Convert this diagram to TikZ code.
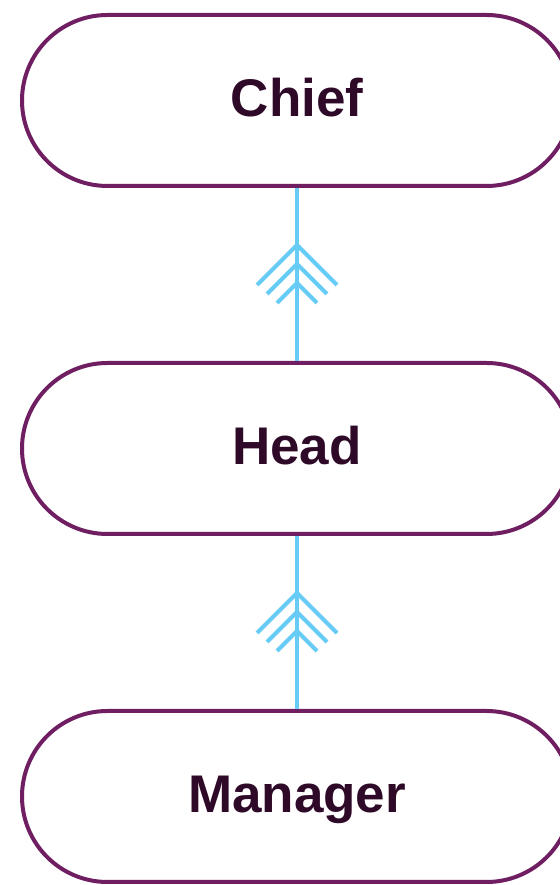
\documentclass[tikz,border=0pt]{standalone}
\usepackage{fontspec}
\setmainfont{Liberation Sans}
\usepackage{tikz}
\usetikzlibrary{positioning,calc}

\definecolor{rank}{RGB}{112,30,98}
\definecolor{ranktext}{RGB}{46,10,40}
\definecolor{link}{RGB}{102,204,245}

\tikzset{
    rankbox/.style={rectangle, rounded corners=85.5pt, draw=rank, line width=4pt,
        fill=white, minimum width=550pt, minimum height=171pt, text=ranktext,
        text height=32pt, text depth=0pt,
        font=\fontsize{53}{60}\selectfont\bfseries},
    linkline/.style={draw=link, line width=4pt},
}

\begin{document}
\begin{tikzpicture}[x=1pt,y=1pt]
        \useasboundingbox (0,0) rectangle (559,885);
        \node[rankbox] (chief) at (297,784.5) {Chief};
        \node[rankbox, below=173pt of chief] (head) {Head};
        \node[rankbox, below=173pt of head] (manager) {Manager};
        \draw[linkline] (head.north) -- (chief.south);
        \draw[linkline] (manager.north) -- (head.south);
        \coordinate (m1) at ($(head.north)!0.5!(chief.south)$);
        \coordinate (m2) at ($(manager.north)!0.5!(head.south)$);
        % three chevrons on each link
        \foreach \m in {m1,m2}
            \foreach \w/\d in {40/29.5, 30/10.5, 20/-8.5}
                \draw[linkline] ($(\m)+(-\w,\d-\w)$) -- ($(\m)+(0,\d)$) -- ($(\m)+(\w,\d-\w)$);
    \end{tikzpicture}
\end{document}
